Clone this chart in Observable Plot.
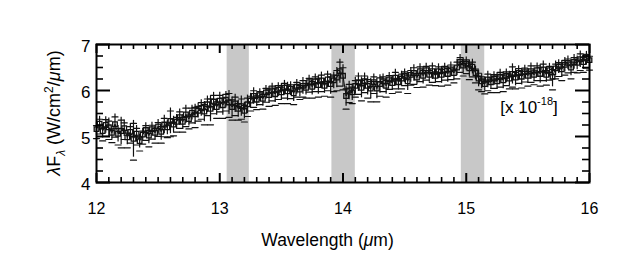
<!DOCTYPE html>
<html><head><meta charset="utf-8">
<script src="https://cdn.jsdelivr.net/npm/d3@7"></script>
<script src="https://cdn.jsdelivr.net/npm/@observablehq/plot@0.6"></script>
<style>body{margin:0;background:#fff}svg{display:block}</style>
</head><body><div id="chart"></div>
<script>
const wavelength = [
12.000,12.025,12.050,12.075,12.100,12.125,12.150,12.175,12.200,12.225,
12.250,12.275,12.300,12.325,12.350,12.375,12.400,12.425,12.450,12.475,
12.500,12.525,12.550,12.575,12.600,12.625,12.650,12.675,12.700,12.725,
12.750,12.775,12.800,12.825,12.850,12.875,12.900,12.925,12.950,12.975,
13.000,13.025,13.050,13.075,13.100,13.125,13.150,13.175,13.200,13.225,
13.250,13.275,13.300,13.325,13.350,13.375,13.400,13.425,13.450,13.475,
13.500,13.525,13.550,13.575,13.600,13.625,13.650,13.675,13.700,13.725,
13.750,13.775,13.800,13.825,13.850,13.875,13.900,13.925,13.950,13.975,
14.000,14.025,14.050,14.075,14.100,14.125,14.150,14.175,14.200,14.225,
14.250,14.275,14.300,14.325,14.350,14.375,14.400,14.425,14.450,14.475,
14.500,14.525,14.550,14.575,14.600,14.625,14.650,14.675,14.700,14.725,
14.750,14.775,14.800,14.825,14.850,14.875,14.900,14.925,14.950,14.975,
15.000,15.025,15.050,15.075,15.100,15.125,15.150,15.175,15.200,15.225,
15.250,15.275,15.300,15.325,15.350,15.375,15.400,15.425,15.450,15.475,
15.500,15.525,15.550,15.575,15.600,15.625,15.650,15.675,15.700,15.725,
15.750,15.775,15.800,15.825,15.850,15.875,15.900,15.925,15.950,15.975,
16.000];
const flux = [
5.16,5.28,5.12,5.25,5.20,5.08,5.27,5.06,5.12,5.18,
4.98,5.10,4.95,5.06,4.90,5.04,5.14,5.02,5.16,5.08,
5.22,5.10,5.26,5.20,5.34,5.26,5.32,5.42,5.32,5.48,
5.38,5.52,5.48,5.56,5.62,5.54,5.70,5.60,5.76,5.64,
5.78,5.68,5.80,5.74,5.64,5.72,5.60,5.66,5.56,5.70,
5.78,5.88,5.80,5.90,5.82,5.96,5.90,6.00,5.92,6.02,
5.96,6.06,5.98,6.04,5.94,6.08,6.02,6.10,6.06,6.18,
6.08,6.20,6.12,6.22,6.10,6.24,6.14,6.22,6.28,6.42,
6.32,5.88,6.00,5.96,6.10,6.18,6.06,6.20,6.10,6.04,
6.18,6.04,6.14,6.20,6.10,6.24,6.16,6.28,6.18,6.26,
6.32,6.20,6.34,6.38,6.28,6.42,6.32,6.44,6.34,6.42,
6.32,6.42,6.34,6.44,6.36,6.46,6.38,6.50,6.62,6.54,
6.58,6.48,6.52,6.38,6.26,6.20,6.14,6.24,6.18,6.26,
6.20,6.30,6.22,6.32,6.26,6.36,6.28,6.38,6.30,6.40,
6.32,6.42,6.34,6.44,6.36,6.46,6.34,6.44,6.30,6.48,
6.52,6.46,6.56,6.60,6.50,6.62,6.60,6.68,6.62,6.70,
6.66];
const fluxErr = [
0.14,0.16,0.15,0.18,0.20,0.15,0.22,0.18,0.30,0.18,
0.16,0.18,0.40,0.18,0.15,0.14,0.16,0.18,0.15,0.16,
0.15,0.18,0.20,0.16,0.28,0.18,0.16,0.18,0.16,0.20,
0.15,0.16,0.22,0.16,0.18,0.22,0.18,0.28,0.20,0.18,
0.18,0.22,0.18,0.26,0.22,0.20,0.18,0.22,0.18,0.20,
0.16,0.18,0.15,0.14,0.16,0.15,0.18,0.16,0.18,0.15,
0.18,0.16,0.20,0.15,0.18,0.16,0.15,0.18,0.16,0.15,
0.18,0.16,0.20,0.18,0.16,0.18,0.22,0.18,0.22,0.26,
0.24,0.22,0.20,0.18,0.18,0.20,0.22,0.18,0.20,0.22,
0.18,0.22,0.20,0.16,0.18,0.15,0.16,0.18,0.15,0.16,
0.15,0.20,0.16,0.18,0.15,0.16,0.18,0.15,0.16,0.18,
0.15,0.16,0.18,0.15,0.18,0.16,0.15,0.18,0.16,0.16,
0.15,0.18,0.16,0.15,0.18,0.16,0.15,0.18,0.16,0.15,
0.18,0.16,0.18,0.15,0.16,0.22,0.18,0.16,0.18,0.15,
0.16,0.18,0.15,0.16,0.20,0.18,0.16,0.15,0.22,0.16,
0.15,0.18,0.16,0.15,0.18,0.16,0.15,0.18,0.16,0.15,
0.15];
const bandStart = [13.06, 13.91, 14.96];
const bandEnd = [13.24, 14.10, 15.15];
const xTicks = [12, 13, 14, 15, 16];
const xMinorTicks = [12.1,12.2,12.3,12.4,12.5,12.6,12.7,12.8,12.9,
  13.1,13.2,13.3,13.4,13.5,13.6,13.7,13.8,13.9,
  14.1,14.2,14.3,14.4,14.5,14.6,14.7,14.8,14.9,
  15.1,15.2,15.3,15.4,15.5,15.6,15.7,15.8,15.9];
const yTicks = [4, 5, 6, 7];
const yMinorTicks = [4.25,4.5,4.75,5.25,5.5,5.75,6.25,6.5,6.75];
const xLabel = "Wavelength (";
const scaleNote = {x: 15.28, y: 5.5};

const data = wavelength.map((w, i) => ({w, f: flux[i], lo: flux[i] - fluxErr[i], hi: flux[i] + fluxErr[i]}));
const bands = bandStart.map((s, i) => ({s, e: bandEnd[i]}));

const W = 630, H = 270, mL = 96, mR = 41, mT = 44, mB = 88;
const fw = W - mL - mR, fh = H - mT - mB;
const font = "'Liberation Sans', Arial, Helvetica, sans-serif";
const capShape = {draw(ctx, l) { ctx.moveTo(-l / 2, 0); ctx.lineTo(l / 2, 0); }};

const plot = Plot.plot({
  width: W, height: H,
  marginLeft: mL, marginRight: mR, marginTop: mT, marginBottom: mB,
  style: {fontFamily: font, fontSize: "15px", color: "#000", background: "#fff"},
  x: {domain: [12, 16]},
  y: {domain: [4, 7]},
  marks: [
    Plot.rect(bands, {x1: "s", x2: "e", fill: "#c8c8c8"}),
    Plot.ruleX(data, {x: "w", y1: "lo", y2: "hi", stroke: "#111", strokeWidth: 1.2}),
    Plot.vector(data, {x: "w", y: "hi", length: 6, anchor: "middle", shape: capShape, stroke: "#111", strokeWidth: 1.2}),
    Plot.vector(data, {x: "w", y: "lo", length: 6, anchor: "middle", shape: capShape, stroke: "#111", strokeWidth: 1.2}),
    Plot.line(data, {x: "w", y: "f", stroke: "#111", strokeWidth: 1}),
    Plot.dot(data, {x: "w", y: "f", symbol: "square", r: 2.6, stroke: "#111", strokeWidth: 1.3, fill: "none"}),
    Plot.frame({stroke: "#000", strokeWidth: 2}),
    Plot.tickX(xTicks, {x: d => d, insetBottom: fh - 9, stroke: "#000", strokeWidth: 2}),
    Plot.tickX(xTicks, {x: d => d, insetTop: fh - 9, stroke: "#000", strokeWidth: 2}),
    Plot.tickX(xMinorTicks, {x: d => d, insetBottom: fh - 5, stroke: "#000", strokeWidth: 1.6}),
    Plot.tickX(xMinorTicks, {x: d => d, insetTop: fh - 5, stroke: "#000", strokeWidth: 1.6}),
    Plot.tickY(yTicks, {y: d => d, insetRight: fw - 14, stroke: "#000", strokeWidth: 2}),
    Plot.tickY(yTicks, {y: d => d, insetLeft: fw - 14, stroke: "#000", strokeWidth: 2}),
    Plot.tickY(yMinorTicks, {y: d => d, insetRight: fw - 7, stroke: "#000", strokeWidth: 1.6}),
    Plot.tickY(yMinorTicks, {y: d => d, insetLeft: fw - 7, stroke: "#000", strokeWidth: 1.6}),
    Plot.axisX(xTicks, {tickSize: 0, tickPadding: 20, label: null, fontSize: 16, tickFormat: d => String(d)}),
    Plot.axisY(yTicks, {tickSize: 0, tickPadding: 6, label: null, fontSize: 17, dy: 2, tickFormat: d => String(d)})
  ]
});
document.getElementById("chart").appendChild(plot);

const svg = d3.select(plot);
const sx = plot.scale("x"), sy = plot.scale("y");

// x axis label
const xl = svg.append("text")
  .attr("x", (sx.apply(12) + sx.apply(16)) / 2 - 15).attr("y", 246)
  .attr("text-anchor", "middle").attr("font-family", font).attr("font-size", 17.5).attr("fill", "#000");
xl.append("tspan").text(xLabel);
xl.append("tspan").attr("font-style", "italic").text("μ");
xl.append("tspan").text("m)");

// y axis label
const yl = svg.append("text")
  .attr("transform", `translate(60,${(sy.apply(4) + sy.apply(7)) / 2}) rotate(-90)`)
  .attr("text-anchor", "middle").attr("font-family", font).attr("font-size", 18).attr("fill", "#000");
yl.append("tspan").attr("font-style", "italic").text("λ");
yl.append("tspan").text("F");
yl.append("tspan").attr("font-style", "italic").attr("font-size", 12).attr("dy", 5).text("λ");
yl.append("tspan").attr("dy", -5).text(" (W/cm");
yl.append("tspan").attr("font-size", 12).attr("dy", -7).text("2");
yl.append("tspan").attr("dy", 7).text("/");
yl.append("tspan").attr("font-style", "italic").text("μ");
yl.append("tspan").text("m)");

// scale note
const sn = svg.append("text")
  .attr("x", sx.apply(scaleNote.x)).attr("y", sy.apply(scaleNote.y))
  .attr("text-anchor", "start")
  .attr("font-family", font).attr("font-size", 17).attr("fill", "#000");
sn.append("tspan").text("[x 10");
sn.append("tspan").attr("font-size", 11).attr("dy", -8).text("-18");
sn.append("tspan").attr("dy", 8).text("]");
</script>
</body></html>
